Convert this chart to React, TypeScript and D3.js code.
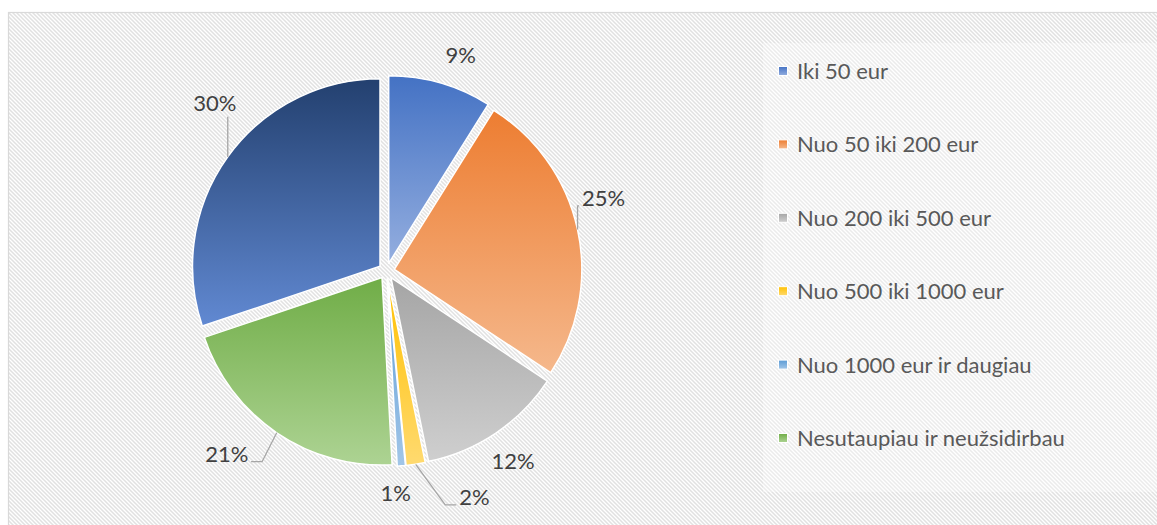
import React from 'react';
import * as d3 from 'd3';

const categories = [
  'Iki 50 eur',
  'Nuo 50 iki 200 eur',
  'Nuo 200 iki 500 eur',
  'Nuo 500 iki 1000 eur',
  'Nuo 1000 eur ir daugiau',
  'Nesutaupiau ir neužsidirbau',
  '',
];
const values = [8.9, 25.4, 12.49, 1.65, 0.7, 20.7, 30.16];
const legendCount = 6;

const topColors = ['#4472C4', '#ED7D31', '#A5A5A5', '#FFC000', '#5B9BD5', '#70AD47', '#23406F'];
const bottomColors = ['#94AEDF', '#F5B88C', '#CFCFCF', '#FFDA70', '#A2C6E8', '#ADD393', '#6189D2'];

// label layout (styling): angular nudge (deg) from slice middle, radial distance, leader line
const labelAngleNudge = [3, -6.4, 0.3, -12.7, 2.0, 7.0, 8.7];
const labelRadius = [228, 229, 228, 242.5, 222, 242.7, 240.3];
const hasLeader = [false, true, false, true, false, true, true];

const W = 1157;
const H = 525;
const cx = 386.5;
const cy = 271;
const R = 187.5;
const EXPLODE = 8;
const FONT = 'Lato, "Liberation Sans", sans-serif';
const FS = 22;

export default function App() {
  const pie = d3.pie<number>().sort(null).value((d) => d)(values);
  const arc = d3.arc<d3.PieArcDatum<number>>().innerRadius(0).outerRadius(R);

  const legendY = d3
    .scalePoint<string>()
    .domain(categories.slice(0, legendCount))
    .range([71, 438]);

  const textW = (s: string) => ((s.length - 1) * 0.55 + 0.75) * FS;

  return (
    <svg width={W} height={H} style={{ position: 'absolute', left: 0, top: 0 }}>
      <defs>
        <pattern id="bgp" patternUnits="userSpaceOnUse" width={4} height={4}>
          <rect width={4} height={4} fill="#ffffff" />
          <path d="M-1,-1 L5,5 M-1,3 L1,5 M3,-1 L5,1" stroke="#e1e1e1" strokeWidth={1.5} />
        </pattern>
        {topColors.map((c, i) => (
          <linearGradient key={i} id={`g${i}`} x1="0" y1="0" x2="0" y2="1">
            <stop offset="0" stopColor={c} />
            <stop offset="1" stopColor={bottomColors[i]} />
          </linearGradient>
        ))}
      </defs>
      <rect x={8.5} y={12.5} width={W} height={H} fill="url(#bgp)" stroke="#d9d9d9" strokeWidth={1.2} />
      <rect x={763} y={43} width={400} height={449} fill="#ffffff" opacity={0.35} />

      {pie.map((p, i) => {
        const mid = (p.startAngle + p.endAngle) / 2;
        const dx = Math.sin(mid) * EXPLODE;
        const dy = -Math.cos(mid) * EXPLODE;
        return (
          <path
            key={i}
            d={arc(p) || ''}
            transform={`translate(${cx + dx},${cy + dy})`}
            fill={`url(#g${i})`}
            stroke="#ffffff"
            strokeWidth={1.5}
            strokeLinejoin="round"
          />
        );
      })}

      {pie.map((p, i) => {
        const mid = (p.startAngle + p.endAngle) / 2;
        const a = mid + (labelAngleNudge[i] * Math.PI) / 180;
        const lx = cx + labelRadius[i] * Math.sin(a);
        const ly = cy - labelRadius[i] * Math.cos(a);
        const label = `${Math.round(values[i])}%`;
        let leader: string | null = null;
        if (hasLeader[i]) {
          const ex = cx + Math.sin(mid) * (EXPLODE + R);
          const ey = cy - Math.cos(mid) * (EXPLODE + R);
          const w = textW(label);
          const left = lx - w / 2;
          const right = lx + w / 2;
          const by = ly + 8;
          if (ex >= left && ex <= right) {
            const endY = ey > ly ? ly + 14 : ly - 14;
            leader = `M${ex},${ey}L${ex},${endY}`;
          } else if (ex < left) {
            const endX = left - 4;
            const elbowX = Math.max(ex, endX - 11);
            leader = `M${ex},${ey}L${elbowX},${by}L${endX},${by}`;
          } else {
            const endX = right + 4;
            const elbowX = Math.min(ex, endX + 11);
            leader = `M${ex},${ey}L${elbowX},${by}L${endX},${by}`;
          }
        }
        return (
          <g key={i}>
            {leader && <path d={leader} fill="none" stroke="#a6a6a6" strokeWidth={1.3} />}
            <text
              x={lx}
              y={ly}
              dy="0.36em"
              textAnchor="middle"
              fontFamily={FONT}
              fontSize={FS}
              fill="#404040"
            >
              {label}
            </text>
          </g>
        );
      })}

      {categories.slice(0, legendCount).map((c, i) => {
        const y = legendY(c) as number;
        return (
          <g key={c}>
            <rect x={778.5} y={y - 4.5} width={9} height={9} fill={`url(#g${i})`} stroke="#ffffff" strokeWidth={1} />
            <text x={797} y={y} dy="0.36em" fontFamily={FONT} fontSize={FS} fill="#595959">
              {c}
            </text>
          </g>
        );
      })}
    </svg>
  );
}
